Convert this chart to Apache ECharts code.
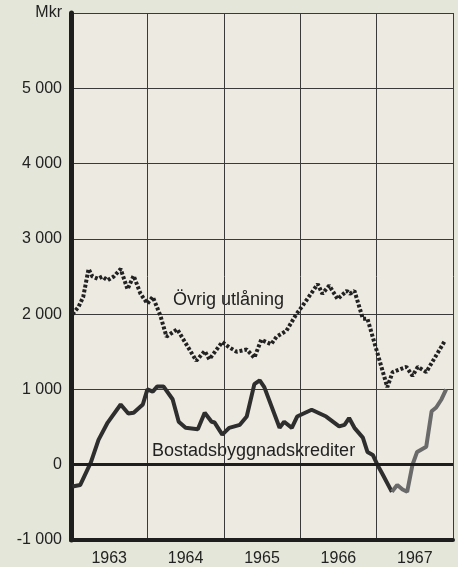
<!DOCTYPE html>
<html><head><meta charset="utf-8">
<script src="https://cdn.jsdelivr.net/npm/echarts@6/dist/echarts.min.js"></script>
<style>html,body{margin:0;padding:0;background:#e4e6d9;}#c{width:458px;height:567px;}</style>
</head><body><div id="c"></div>
<script>
// time in years after start of 1963
const ovrigT = [0.02,0.10,0.16,0.23,0.28,0.35,0.41,0.48,0.56,0.65,0.74,0.82,0.91,1.00,1.07,1.17,1.25,1.39,1.64,1.75,1.81,1.98,2.07,2.17,2.30,2.40,2.49,2.62,2.69,2.82,2.95,3.03,3.23,3.29,3.38,3.49,3.61,3.65,3.71,3.82,3.88,4.14,4.21,4.39,4.47,4.54,4.65,4.89];
const ovrigV = [2000,2100,2230,2600,2500,2470,2500,2450,2500,2600,2330,2510,2270,2140,2230,1980,1700,1800,1380,1510,1400,1630,1560,1500,1530,1420,1660,1600,1700,1780,2000,2110,2400,2270,2380,2200,2310,2270,2310,1940,1940,1030,1230,1300,1180,1300,1230,1640];
const bostT = [0.02,0.12,0.26,0.36,0.48,0.65,0.75,0.82,0.94,1.00,1.07,1.13,1.21,1.33,1.41,1.50,1.66,1.75,1.84,1.88,1.98,2.07,2.21,2.30,2.40,2.47,2.53,2.73,2.79,2.89,2.96,3.15,3.34,3.51,3.58,3.64,3.71,3.82,3.88,3.95,4.01,4.08,4.20];
const bostV = [-290,-270,30,330,560,800,680,690,800,1000,970,1040,1040,870,570,490,470,690,570,560,400,490,530,640,1070,1120,1030,490,570,490,640,730,640,510,530,620,490,360,170,130,0,-130,-360];
const bostPrelT = [4.20,4.27,4.34,4.40,4.47,4.53,4.65,4.72,4.78,4.85,4.91];
const bostPrelV = [-360,-270,-330,-360,0,170,240,710,760,870,1000];
const startYear = 1963;
const years = ['1963','1964','1965','1966','1967'];
const yTicks = [-1000,0,1000,2000,3000,4000,5000];

const pair = (t, v) => t.map((x, i) => [startYear + x, v[i]]);
const fmt = v => (v < 0 ? '-' : '') + (Math.abs(v) >= 1000 ? Math.floor(Math.abs(v)/1000) + ' ' + String(Math.abs(v)%1000).padStart(3,'0') : String(Math.abs(v)));

const chart = echarts.init(document.getElementById('c'));
chart.setOption({
  backgroundColor: '#e4e6d9',
  animation: false,
  textStyle: {fontFamily: 'Liberation Sans'},
  grid: {left: 71, right: 5, top: 13, bottom: 27, show: true, backgroundColor: '#edeae2', borderWidth: 0},
  xAxis: [{
    type: 'value', min: 1963, max: 1968, interval: 1,
    axisLine: {show: false}, axisTick: {show: false}, axisLabel: {show: false},
    splitLine: {show: true, lineStyle: {color: '#3a3a3a', width: 1}}
  }, {
    type: 'value', min: 1963, max: 1968, interval: 0.5, position: 'bottom',
    axisLine: {show: true, onZero: false, lineStyle: {color: '#1e1e1e', width: 4}},
    axisTick: {show: false}, splitLine: {show: false},
    axisLabel: {color: '#222', fontSize: 16, margin: 11,
      formatter: v => { const k = Math.round((v - startYear) * 2); return k % 2 === 1 ? years[(k - 1) / 2] : ''; }}
  }],
  yAxis: {
    type: 'value', min: -1000, max: 6000, interval: 1000,
    axisLine: {show: true, onZero: false, lineStyle: {color: '#1e1e1e', width: 5}},
    axisTick: {show: false},
    axisLabel: {color: '#222', fontSize: 16, margin: 9,
      formatter: v => (v === 6000 ? 'Mkr' : (yTicks.includes(v) ? fmt(v) : ''))},
    splitLine: {show: true, lineStyle: {color: '#3a3a3a', width: 1}}
  },
  series: [{
    type: 'line', xAxisIndex: 0, data: pair(ovrigT, ovrigV), symbol: 'none',
    lineStyle: {color: '#222', width: 4, type: [3, 2]}, z: 3
  }, {
    type: 'line', xAxisIndex: 0, data: pair(bostT, bostV), symbol: 'none',
    lineStyle: {color: '#2e2e2e', width: 4}, z: 3,
    markLine: {silent: true, symbol: 'none', label: {show: false},
      lineStyle: {color: '#1e1e1e', width: 3, type: 'solid'}, data: [{yAxis: 0}]}
  }, {
    type: 'line', xAxisIndex: 0, data: pair(bostPrelT, bostPrelV), symbol: 'none',
    lineStyle: {color: '#6a6a6a', width: 4}, z: 3
  }],
  graphic: [
    {type: 'text', left: 173, top: 291, style: {text: 'Övrig utlåning', fontSize: 18, fill: '#222', fontFamily: 'Liberation Sans'}},
    {type: 'text', left: 152, top: 442, style: {text: 'Bostadsbyggnadskrediter', fontSize: 18, fill: '#222', fontFamily: 'Liberation Sans'}}
  ]
});
</script></body></html>
